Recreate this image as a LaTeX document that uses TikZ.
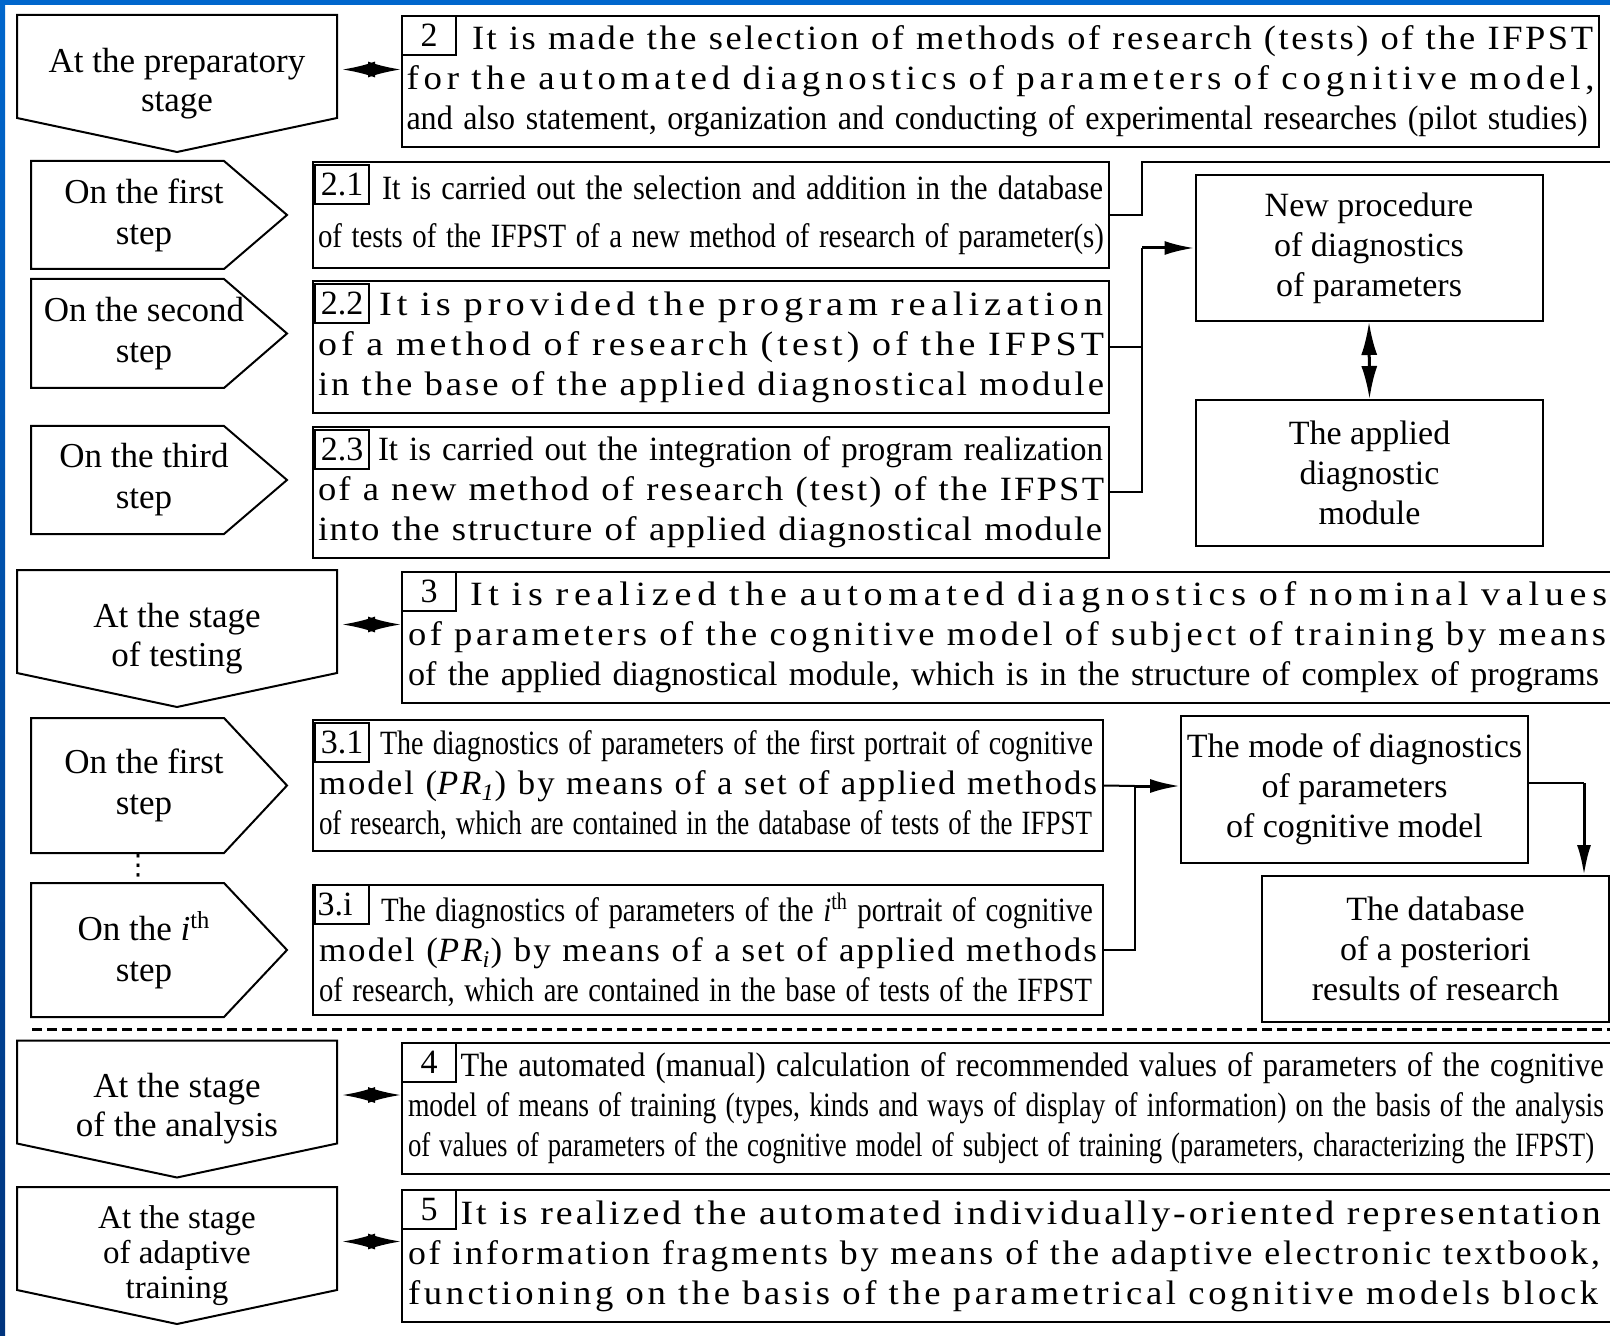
\documentclass[tikz,border=0pt]{standalone}
\usepackage{fontspec}
\setmainfont{Liberation Serif}
\newfontfamily\symfont{DejaVu Sans}
\usepackage{graphicx}
\usepackage{tikz}
\usetikzlibrary{arrows.meta,positioning,calc}
\definecolor{slideblue}{RGB}{0,102,204}
\definecolor{slidenavy}{RGB}{0,52,125}
% one line of a text box, stretched or squeezed to a given width
\newcommand\fitln[3][0]{\resizebox{#2}{\height}{\addfontfeature{LetterSpace=#1}#3}}

\begin{document}
\begin{tikzpicture}[x=0.5pt,y=-0.5pt,>=Latex,line width=1pt,every node/.style={font=\fontsize{17}{20}\selectfont}]
\tikzstyle{stg}=[minimum width=159pt,minimum height=67.5pt,inner sep=0,align=center,font=\fontsize{17.5}{19.5}\selectfont]
\tikzstyle{stp}=[minimum width=112pt,inner sep=0,align=center,font=\fontsize{17.5}{20.5}\selectfont]
\tikzstyle{txt}=[draw,inner sep=0,align=left]
\tikzstyle{num}=[draw,fill=white,minimum width=27pt,minimum height=19.5pt,inner sep=0,anchor=north west]
\tikzstyle{blk}=[draw,inner sep=0,minimum width=173.5pt,minimum height=73pt,align=center]
\tikzstyle{one}=[arrows={-Latex[length=15pt,width=7pt]},line width=1.5pt]
\tikzstyle{two}=[arrows={Latex[length=16.5pt,width=8pt]-Latex[length=16.5pt,width=8pt]},line width=1.5pt]
\useasboundingbox (0,0) rectangle (1610,1336);
\clip (0,0) rectangle (1610,1336);
\fill[slideblue] (0,0) rectangle (1610,5);
\shade[top color=slideblue,bottom color=slidenavy] (0,0) rectangle (5,1336);
% stages
\node[stg] (p1) at (177,83.5) {At the preparatory\\stage};
\node[stg] (p2) at (177,638.5) {At the stage\\of testing};
\node[stg] (p3) at (177,1109) {At the stage\\of the analysis};
\node[stg,font=\fontsize{16.5}{17.5}\selectfont] (p4) at (177,1255.5) {At the stage\\of adaptive\\training};
\foreach \p in {p1,p2,p3,p4}
  \draw (\p.north west) -- (\p.north east) -- ([yshift=17pt]\p.south east) -- (\p.south) -- ([yshift=17pt]\p.south west) -- cycle;
% steps
\node[stp,minimum height=53pt] (s1) at (144,215) {On the first\\step};
\node[stp,minimum height=53.5pt] (s2) at (144,333.5) {On the second\\step};
\node[stp,minimum height=53pt] (s3) at (144,480) {On the third\\step};
\node[stp,minimum height=66.5pt] (s4) at (144,785.5) {On the first\\step};
\node[stp,minimum height=66pt] (s5) at (144,950) {On the \textit{i}\textsuperscript{th}\\step};
\node[inner sep=0,font=\fontsize{14}{14}\selectfont] (dots) at (138,866) {\symfont ⋮};
\foreach \s in {s1,s2,s3,s4,s5}
  \draw (\s.north west) -- ([xshift=-16.5pt]\s.north east) -- ([xshift=15pt]\s.east) -- ([xshift=-16.5pt]\s.south east) -- (\s.south west) -- cycle;
% text boxes
\node[txt,minimum width=598.5pt,minimum height=65.5pt,text width=594pt] (b2) at (1000.5,81.5) {\hspace*{32.75pt}\fitln[7]{560.5pt}{It is made the selection of methods of research (tests) of the IFPST}\\
\fitln[13]{594pt}{for the automated diagnostics of parameters of cognitive model,}\\
\fitln{590.5pt}{and also statement, organization and conducting of experimental researches (pilot studies)}};
\node[txt,minimum width=398pt,minimum height=53pt,text width=393pt,font=\fontsize{17}{24}\selectfont] (b21) at (711,215) {\hspace*{32pt}\fitln{360.5pt}{It is carried out the selection and addition in the database}\\
\fitln{393pt}{of tests of the IFPST of a new method of research of parameter(s)}};
\node[txt,minimum width=398pt,minimum height=66pt,text width=393pt] (b22) at (711,347) {\hspace*{30.5pt}\fitln[13]{362pt}{It is provided the program realization}\\
\fitln[11]{393pt}{of a method of research (test) of the IFPST}\\
\fitln[8]{393pt}{in the base of the applied diagnostical module}};
\node[txt,minimum width=398pt,minimum height=65.5pt,text width=393pt] (b23) at (711,492.5) {\hspace*{30pt}\fitln{362.5pt}{It is carried out the integration of program realization}\\
\fitln[6]{393pt}{of a new method of research (test) of the IFPST}\\
\fitln[4]{392pt}{into the structure of applied diagnostical module}};
\node[txt,minimum width=606pt,minimum height=65.5pt,text width=600pt] (b3) at (1008,637.5) {\hspace*{31pt}\fitln[15]{568.5pt}{It is realized the automated diagnostics of nominal values}\\
\fitln[10]{599pt}{of parameters of the cognitive model of subject of training by means}\\
\fitln{595.5pt}{of the applied diagnostical module, which is in the structure of complex of programs}};
\node[txt,minimum width=395pt,minimum height=65.5pt,text width=389pt] (b31) at (708,785.5) {\hspace*{30.5pt}\fitln{356.5pt}{The diagnostics of parameters of the first portrait of cognitive}\\
\fitln[6]{389pt}{model (\textit{PR\textsubscript{1}}) by means of a set of applied methods}\\
\fitln{386.5pt}{of research, which are contained in the database of tests of the IFPST}};
\node[txt,minimum width=395pt,minimum height=65pt,text width=389pt] (b3i) at (708,950) {\hspace*{31pt}\fitln{356pt}{The diagnostics of parameters of the \textit{i}\textsuperscript{th} portrait of cognitive}\\
\fitln[6]{389pt}{model (\textit{PR\textsubscript{i}}) by means of a set of applied methods}\\
\fitln{386.5pt}{of research, which are contained in the base of tests of the IFPST}};
\node[txt,minimum width=606pt,minimum height=65.5pt,text width=600pt] (b4) at (1008,1108.5) {\hspace*{26.3pt}\fitln{571.5pt}{The automated (manual) calculation of recommended values of parameters of the cognitive}\\
\fitln{598pt}{model of means of training (types, kinds and ways of display of information) on the basis of the analysis}\\
\fitln{593pt}{of values of parameters of the cognitive model of subject of training (parameters, characterizing the IFPST)}};
\node[txt,minimum width=606pt,minimum height=66pt,text width=600pt] (b5) at (1008,1256) {\hspace*{26.3pt}\fitln[8]{570pt}{It is realized the automated individually-oriented representation}\\
\fitln[8]{596pt}{of information fragments by means of the adaptive electronic textbook,}\\
\fitln[10]{595pt}{functioning on the basis of the parametrical cognitive models block}};
% numbers
\node[num] (n2) at (b2.north west) {2};
\node[num] (n3) at (b3.north west) {3};
\node[num] (n4) at (b4.north west) {4};
\node[num] (n5) at (b5.north west) {5};
\node[num] (n21) at ([shift={(1pt,-1.5pt)}]b21.north west) {2.1};
\node[num] (n22) at ([shift={(1pt,-1.5pt)}]b22.north west) {2.2};
\node[num] (n23) at ([shift={(1pt,-1.5pt)}]b23.north west) {2.3};
\node[num] (n31) at ([shift={(1pt,-1.5pt)}]b31.north west) {3.1};
\node[num] (n3i) at ([shift={(1pt,0pt)}]b3i.north west) {3.i\hspace*{7pt}};
% right column
\node[blk] (np) at (1369,248) {New procedure\\of diagnostics\\of parameters};
\node[blk] (am) at (1369.5,473) {The applied\\diagnostic\\module};
\node[blk,minimum height=73.5pt] (md) at (1354.5,789.5) {The mode of diagnostics\\of parameters\\of cognitive model};
\node[blk] (db) at (1435.5,949) {The database\\of a posteriori\\results of research};
% links
\foreach \p/\b in {p1/b2,p2/b3,p3/b4,p4/b5}
  \draw[two,shorten <=2.5pt] ([yshift=7pt]\p.east) -- ([yshift=7pt]\p.east -| \b.west);
\coordinate (bus) at (1142,248);
\coordinate (out21) at (1615,162);
\draw (b21.east) -- (b21.east -| bus) |- (out21);
\draw (b22.east) -- (b22.east -| bus);
\draw (b23.east) -- (b23.east -| bus) -- (bus);
\draw[one] (bus) -- (np.west);
\draw[two] (np.south) -- (am.north);
\coordinate (bus3) at (1135,786);
\draw (b31.east) -- (bus3);
\draw (b3i.east) -- (b3i.east -| bus3) -- (bus3);
\draw[one] (bus3) -- (bus3 -| md.west);
\coordinate (turn) at (1584,783);
\draw (md.east |- turn) -- (turn);
\draw[one] (turn) -- (turn |- db.north);
\coordinate (dl) at (32,1029);
\coordinate (dr) at (1615,1029);
\draw[line width=1.5pt,dash pattern=on 5pt off 2.5pt] (dl) -- (dr);
\end{tikzpicture}
\end{document}
